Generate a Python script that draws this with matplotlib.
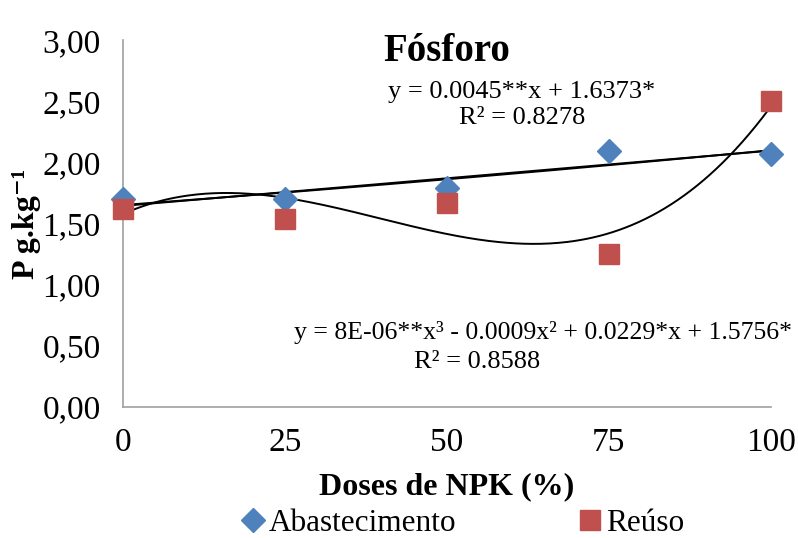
import numpy as np
import matplotlib
matplotlib.use("Agg")
import matplotlib.pyplot as plt
from matplotlib.lines import Line2D

# dados
doses = [0, 25, 50, 75, 100]
abastecimento = [1.70, 1.70, 1.79, 2.09, 2.07]
reuso = [1.62, 1.54, 1.67, 1.25, 2.50]
y_ticks = [0.0, 0.5, 1.0, 1.5, 2.0, 2.5, 3.0]

eq_lin = "y = 0.0045**x + 1.6373*\nR² = 0.8278"
eq_cub = "y = 8E-06**x³ - 0.0009x² + 0.0229*x + 1.5756*"
r2_cub = "R² = 0.8588"

plt.rcParams['font.family'] = ['Liberation Serif', 'DejaVu Serif']

fig = plt.figure(figsize=(7.98, 5.38), dpi=100)
ax = fig.add_axes([0.154, 0.2435, 0.812, 0.682])

x = np.array(doses, dtype=float)
xs = np.linspace(0, 100, 300)

# linhas de tendencia
c_lin = np.polyfit(x, abastecimento, 1)
ax.plot(xs, np.polyval(c_lin, xs), color="black", lw=1.4, zorder=2)
c_exp = np.polyfit(x, np.log(abastecimento), 1)
ax.plot(xs, np.exp(np.polyval(c_exp, xs)), color="black", lw=1.4, zorder=2)
c_cub = np.polyfit(x, reuso, 3)
ax.plot(xs, np.polyval(c_cub, xs), color="black", lw=1.4, zorder=2)

ax.plot(doses, abastecimento, "D", color="#4F81BD", ms=12, ls="none", zorder=3)
ax.plot(doses, reuso, "s", color="#C0504D", ms=14, ls="none", zorder=3)

ax.set_xlim(0, 100)
ax.set_ylim(0, 3)
ax.set_xticks(doses)
ax.set_yticks(y_ticks)
ax.set_yticklabels([f"{v:.2f}".replace(".", ",") for v in y_ticks])
ax.tick_params(labelsize=24, length=0)
ax.tick_params(axis="y", pad=16)
ax.tick_params(axis="x", pad=15)
for s in ["top", "right"]:
    ax.spines[s].set_visible(False)
for s in ["left", "bottom"]:
    ax.spines[s].set_color("#A0A0A0")
    ax.spines[s].set_linewidth(1.2)
for ln in ax.lines:
    ln.set_clip_on(False)

ax.set_title("Fósforo", fontsize=28, fontweight="bold", y=0.92)
ax.set_xlabel("Doses de NPK (%)", fontsize=23, fontweight="bold", labelpad=10)
ax.set_ylabel("P g.kg⁻¹", fontsize=23, fontweight="bold", labelpad=1)

ax.text(61.6, 2.47, eq_lin, ha="center", va="center", fontsize=19, linespacing=1.25)
ax.text(64.8, 0.613, eq_cub, ha="center", va="center", fontsize=18.5)
ax.text(54.6, 0.368, r2_cub, ha="center", va="center", fontsize=19)

handles = [Line2D([], [], marker="D", color="#4F81BD", ls="none", ms=12),
           Line2D([], [], marker="s", color="#C0504D", ls="none", ms=14)]
fig.legend(handles, ["Abastecimento", "Reúso"], loc="lower center",
           bbox_to_anchor=(0.577, -0.052), ncol=2, frameon=False, fontsize=22.5,
           handletextpad=0.0, columnspacing=3.8, handlelength=1.0)

fig.savefig("out.png", dpi=100)
